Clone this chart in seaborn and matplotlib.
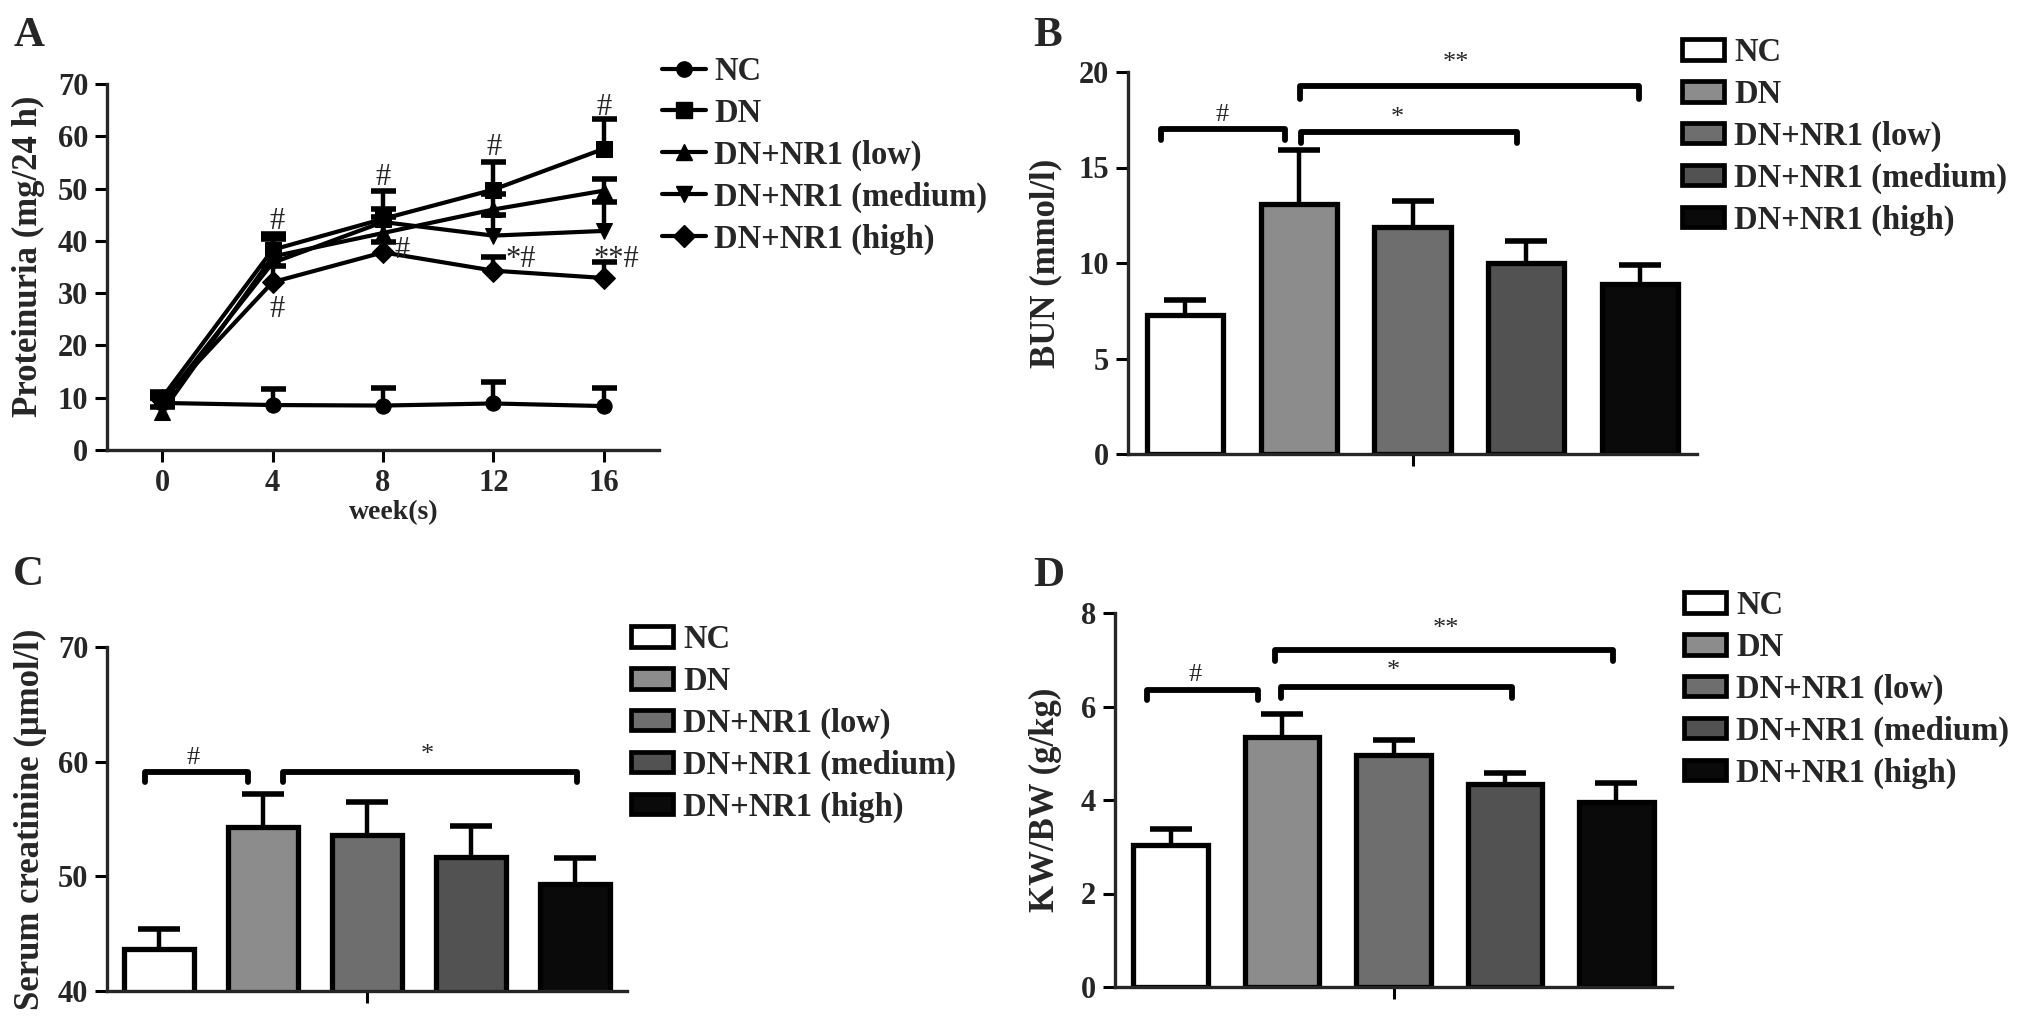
import numpy as np
import pandas as pd
import matplotlib.pyplot as plt
from matplotlib.lines import Line2D
from matplotlib.patches import Patch
import seaborn as sns

# ---- data ----
groups = ["NC", "DN", "DN+NR1 (low)", "DN+NR1 (medium)", "DN+NR1 (high)"]
bar_colors = ["#ffffff", "#8c8c8c", "#6e6e6e", "#525252", "#0a0a0a"]
line_markers = ["o", "s", "^", "v", "D"]

weeks = [0, 4, 8, 12, 16]
prot_nc = [9.0, 8.6, 8.5, 8.9, 8.4]
prot_dn = [10.0, 38.3, 44.2, 49.8, 57.6]
prot_low = [7.3, 37.0, 41.5, 46.0, 49.6]
prot_med = [9.0, 35.8, 43.6, 41.0, 41.9]
prot_high = [9.5, 32.1, 37.8, 34.3, 32.9]
prot_nc_err = [1.0, 3.0, 3.3, 4.2, 3.4]
prot_dn_err = [1.0, 3.1, 5.3, 5.3, 5.8]
prot_low_err = [1.0, 3.8, 3.0, 3.0, 2.2]
prot_med_err = [1.0, 4.6, 2.5, 4.0, 5.5]
prot_high_err = [1.0, 3.0, 2.0, 2.6, 3.0]

bun = [7.28, 13.1, 11.86, 9.99, 8.9]
bun_err = [0.79, 2.8, 1.4, 1.14, 1.0]
scr = [43.7, 54.3, 53.6, 51.7, 49.3]
scr_err = [1.75, 2.85, 2.85, 2.7, 2.3]
kwbw = [3.04, 5.35, 4.97, 4.35, 3.95]
kwbw_err = [0.33, 0.48, 0.32, 0.23, 0.42]

# significance marks: (label, text x, text y) for A;
# brackets: (label, x start, x end, bar height, drop, text x, text y)
brackets_a = [("#", 4.15, 43.7), ("#", 4.15, 26.8), ("#", 8.0, 52.1), ("#", 8.68, 38.1),
              ("#", 12.02, 57.8), ("*#", 13.0, 36.5), ("#", 16.0, 65.6), ("**#", 16.45, 36.5)]
brackets_b = [("#", -0.21, 0.88, 17.03, 0.6, 0.33, 17.75),
              ("*", 1.02, 2.92, 16.86, 0.6, 1.87, 17.6),
              ("**", 1.01, 3.99, 19.25, 0.65, 2.38, 20.45)]
brackets_c = [("#", -0.13, 0.86, 59.14, 0.9, 0.33, 60.3),
              ("*", 1.19, 4.02, 59.14, 0.9, 2.58, 60.6)]
brackets_d = [("#", -0.21, 0.78, 6.36, 0.22, 0.22, 6.68),
              ("*", 0.99, 3.06, 6.41, 0.23, 2.0, 6.75),
              ("**", 0.94, 3.97, 7.2, 0.23, 2.47, 7.66)]

sns.set_style("ticks")
plt.rcParams["font.family"] = ["Liberation Serif", "DejaVu Serif"]
plt.rcParams["font.weight"] = "bold"
plt.rcParams["axes.labelweight"] = "bold"
plt.rcParams["axes.linewidth"] = 2.4

fig = plt.figure(figsize=(20.31, 10.25), dpi=100)
W, H = 2031, 1025


def axes_px(left, right, top, bottom):
    return fig.add_axes([left / W, 1 - bottom / H, (right - left) / W, (bottom - top) / H])


def style_axes(ax):
    sns.despine(ax=ax)
    ax.tick_params(axis="both", which="major", length=8.5, width=2.2, labelsize=22, pad=5, color="black")
    for lab in ax.get_yticklabels() + ax.get_xticklabels():
        lab.set_fontweight("bold")


def upper_errorbars(ax, x, y, err, elw, cap, capthick):
    eb = ax.errorbar(x, y, yerr=[np.zeros(len(err)), err], fmt="none", ecolor="black",
                     elinewidth=elw, capsize=cap, capthick=capthick, zorder=1.5)
    for cl in eb[1]:
        if np.allclose(cl.get_ydata(), y):
            cl.set_visible(False)
        else:
            cl.set_solid_capstyle("round")


def bar_panel(ax, values, errs, ylim, yticks, ylabel, brackets, label_x):
    sns.barplot(x=groups, y=values, hue=groups, palette=bar_colors, order=groups,
                hue_order=groups, edgecolor="black", linewidth=3.8, width=0.67,
                errorbar=None, legend=False, ax=ax, zorder=2)
    upper_errorbars(ax, range(len(groups)), values, errs, 3.2, 15, 4.0)
    ax.set_xlim(-0.5, 4.5)
    ax.set_ylim(*ylim)
    ax.set_yticks(yticks)
    ax.set_xticks([2])
    ax.set_xticklabels([""])
    ax.set_xlabel("")
    ax.set_ylabel(ylabel, fontsize=25, fontweight="bold", va="center")
    ax.yaxis.set_label_coords(label_x, 0.5)
    for lab, x0, x1, top, drop, tx, ty in brackets:
        ax.plot([x0, x0, x1, x1], [top - drop, top, top, top - drop], color="black", lw=4.2,
                solid_capstyle="round", solid_joinstyle="round", clip_on=False)
        ax.text(tx, ty, lab, ha="center", va="center", fontsize=19, fontweight="normal",
                clip_on=False)
    style_axes(ax)


def bar_legend(ax, x, y):
    handles = [Patch(facecolor=c, edgecolor="black", linewidth=3.4) for c in bar_colors]
    ax.legend(handles, groups, loc="upper left", bbox_to_anchor=(x / W, 1 - y / H),
              bbox_transform=fig.transFigure, frameon=False, borderpad=0, borderaxespad=0,
              handlelength=1.3, handleheight=0.6, handletextpad=0.3,
              labelspacing=0.33, prop={"weight": "bold", "size": 23.5})


# ---- panel A ----
axA = axes_px(107, 659, 84, 450)
series = [prot_nc, prot_dn, prot_low, prot_med, prot_high]
errs_a = [prot_nc_err, prot_dn_err, prot_low_err, prot_med_err, prot_high_err]
df_a = pd.DataFrame({
    "week": weeks * len(groups),
    "value": sum(series, []),
    "group": [g for g in groups for _ in weeks],
})
sns.lineplot(data=df_a, x="week", y="value", hue="group", style="group",
             hue_order=groups, style_order=groups, palette=["black"] * 5,
             markers=line_markers, dashes=False, markersize=11, linewidth=3,
             markeredgecolor="black", errorbar=None, legend=False, ax=axA, zorder=3)
for vals, er in zip(series, errs_a):
    upper_errorbars(axA, weeks, vals, er, 3.2, 9, 4.0)
for lab, tx, ty in brackets_a:
    axA.text(tx, ty, lab, ha="center", va="center", fontsize=22, fontweight="normal")
axA.set_xlim(-2, 18)
axA.set_ylim(0, 70)
axA.set_xticks(weeks)
axA.set_yticks(range(0, 71, 10))
axA.set_ylabel("Proteinuria (mg/24 h)", fontsize=25, fontweight="bold", va="center")
axA.yaxis.set_label_coords(-0.143, 0.53)
axA.set_xlabel("week(s)", fontsize=20, fontweight="bold", va="center")
axA.xaxis.set_label_coords(0.52, -0.17)
style_axes(axA)
handles_a = [Line2D([0], [0], color="black", lw=3, marker=m, markersize=11) for m in line_markers]
axA.legend(handles_a, groups, loc="upper left", bbox_to_anchor=(662 / W, 1 - 56 / H),
           bbox_transform=fig.transFigure, frameon=False, borderpad=0, borderaxespad=0,
           handlelength=1.35, handletextpad=0.25, labelspacing=0.33,
           prop={"weight": "bold", "size": 23.5})

# ---- panel B ----
axB = axes_px(1128, 1697, 72, 454)
bar_panel(axB, bun, bun_err, (0, 20), [0, 5, 10, 15, 20], "BUN (mmol/l)", brackets_b, -0.144)
bar_legend(axB, 1682, 37)

# ---- panel C ----
axC = axes_px(107, 627, 647, 991)
bar_panel(axC, scr, scr_err, (40, 70), [40, 50, 60, 70], "Serum creatinine (μmol/l)",
          brackets_c, -0.148)
bar_legend(axC, 631, 624)

# ---- panel D ----
axD = axes_px(1115, 1672, 613, 987)
bar_panel(axD, kwbw, kwbw_err, (0, 8), [0, 2, 4, 6, 8], "KW/BW (g/kg)", brackets_d, -0.124)
bar_legend(axD, 1684, 590)

for lab, x, y in [("A", 14, 17), ("B", 1033, 17), ("C", 13, 556), ("D", 1033, 557)]:
    fig.text(x / W, 1 - y / H, lab, ha="left", va="top", fontsize=31, fontweight="bold")

fig.savefig("out.png", dpi=100)
